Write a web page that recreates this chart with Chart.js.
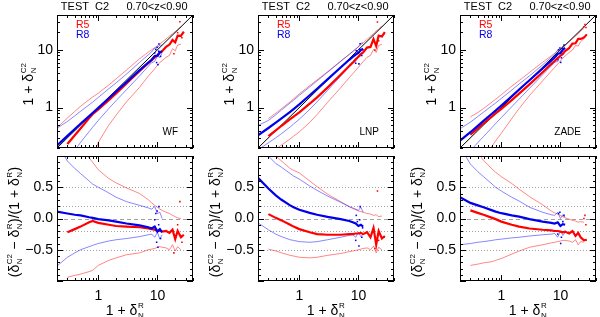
<!DOCTYPE html>
<html>
<head>
<meta charset="UTF-8">
<title>TEST C2 0.70&lt;z&lt;0.90</title>
<script src="https://cdn.jsdelivr.net/npm/chart.js"></script>
<style>
  html, body { margin: 0; padding: 0; background: #fff; overflow: hidden; }
  #wrap { position: relative; width: 600px; height: 317px; }
  #wrap canvas { position: absolute; }
</style>
</head>
<body>
<div id="wrap"></div>
<script>
// x = 1 + delta_R, shared by every curve
const xGrid = [0.2, 0.3, 0.4, 0.5, 0.7, 0.8, 1, 1.5, 2, 3, 5, 7, 8, 9, 10, 11, 12, 14, 16, 18, 20, 22, 25, 28];

// relative error (dC2 - dR)/(1 + dR)
// thick = mean, Hi/Lo = thin bounds; blue = R8, red = R5
const wfBlue     = [0.11, 0.08, 0.06, 0.05, 0.02, 0.01, -0.01, -0.03, -0.05, -0.08, -0.11, -0.14, -0.16, -0.13, -0.21, -0.17, -0.22];
const wfBlueHi   = [1.2, 0.92, 0.8, 0.72, 0.6, 0.55, 0.5, 0.41, 0.34, 0.27, 0.21, 0.17, 0.15, 0.19, 0.08, 0.1, 0.0];
const wfBlueLo   = [-0.76, -0.62, -0.55, -0.5, -0.45, -0.43, -0.4, -0.36, -0.34, -0.32, -0.29, -0.26, -0.25, -0.3, -0.22, -0.33, -0.26];
const wfRed      = [null, -0.22, -0.17, -0.13, -0.06, -0.04, -0.07, -0.1, -0.12, -0.13, -0.14, -0.16, -0.17, -0.18, -0.2, -0.19, -0.21, -0.2, -0.23, -0.18, -0.33, -0.2, -0.3, -0.26];
const wfRedHi    = [1.25, 1.2, 1.15, 1.1, 0.97, 0.9, 0.78, 0.64, 0.57, 0.49, 0.4, 0.3, 0.25, 0.21, 0.18, 0.15, 0.13, 0.1, 0.08, 0.05, 0.03, 0.01, 0.0, null];
const wfRedLo    = [null, -0.94, -0.91, -0.89, -0.85, -0.83, -0.75, -0.67, -0.63, -0.58, -0.55, -0.5, -0.49, -0.48, -0.46, -0.45, -0.46, -0.47, -0.5, -0.42, -0.52, -0.45, -0.5, null];
const wfBlueDots = [[9.0, -0.02], [9.4, 0.08], [9.7, -0.38], [10.2, -0.46], [10.5, -0.1], [10.6, 0.19], [11.3, -0.32], [9.9, 0.12]];
const wfRedDots  = [[24, 0.27], [22, -0.1], [26, -0.38], [19, -0.55]];

const lnpBlue     = [0.65, 0.48, 0.37, 0.3, 0.21, 0.18, 0.14, 0.09, 0.06, 0.025, -0.01, -0.04, -0.06, -0.08, -0.12, -0.1, -0.13];
const lnpBlueHi   = [1.45, 1.0, 0.88, 0.82, 0.72, 0.68, 0.63, 0.52, 0.45, 0.36, 0.26, 0.19, 0.17, 0.15, 0.13, 0.18, 0.1];
const lnpBlueLo   = [-0.07, -0.18, -0.25, -0.29, -0.34, -0.35, -0.37, -0.38, -0.37, -0.34, -0.3, -0.27, -0.26, -0.3, -0.22, -0.29, -0.25];
const lnpRed      = [null, 0.07, 0.01, -0.03, -0.1, -0.13, -0.17, -0.22, -0.25, -0.26, -0.26, -0.25, -0.25, -0.24, -0.24, -0.23, -0.25, -0.22, -0.3, -0.15, -0.42, -0.2, -0.32, -0.28];
const lnpRedHi    = [null, 1.15, 1.0, 0.92, 0.8, 0.77, 0.73, 0.6, 0.51, 0.39, 0.27, 0.19, 0.16, 0.14, 0.12, 0.11, 0.1, 0.08, 0.07, 0.05, 0.06, 0.03, 0.04, null];
const lnpRedLo    = [null, -0.49, -0.52, -0.55, -0.59, -0.6, -0.62, -0.63, -0.62, -0.59, -0.56, -0.53, -0.52, -0.51, -0.5, -0.49, -0.48, -0.47, -0.5, -0.44, -0.55, -0.46, -0.5, null];
const lnpBlueDots = [[9.2, 0.05], [9.6, -0.05], [10.7, 0.19], [10.2, -0.44], [11.4, -0.3], [9.0, -0.35], [10.5, -0.02], [11.8, -0.15]];
const lnpRedDots  = [[21, 0.44], [22, -0.35], [27, -0.3], [19, -0.48]];

const zadeBlue     = [0.34, 0.25, 0.21, 0.18, 0.13, 0.11, 0.085, 0.05, 0.03, -0.01, -0.05, -0.07, -0.08, -0.06, -0.12, -0.09, -0.1];
const zadeBlueHi   = [1.15, 0.87, 0.75, 0.67, 0.55, 0.5, 0.44, 0.34, 0.28, 0.18, 0.1, 0.06, 0.05, 0.1, 0.0, 0.06, 0.02];
const zadeBlueLo   = [-0.42, -0.4, -0.38, -0.37, -0.35, -0.34, -0.33, -0.31, -0.3, -0.28, -0.26, -0.25, -0.24, -0.3, -0.2, -0.27, -0.23];
const zadeRed      = [null, 0.13, 0.09, 0.06, 0.01, -0.01, -0.05, -0.1, -0.13, -0.16, -0.18, -0.19, -0.2, -0.2, -0.21, -0.22, -0.21, -0.24, -0.2, -0.28, -0.23, -0.3, -0.35, -0.34];
const zadeRedHi    = [null, 1.3, 1.05, 0.93, 0.79, 0.74, 0.67, 0.56, 0.47, 0.35, 0.22, 0.12, 0.09, 0.07, 0.05, 0.03, 0.01, -0.01, -0.03, -0.04, -0.06, -0.05, -0.06, null];
const zadeRedLo    = [null, -0.75, -0.73, -0.71, -0.69, -0.67, -0.64, -0.57, -0.52, -0.46, -0.42, -0.39, -0.38, -0.37, -0.36, -0.35, -0.35, -0.36, -0.38, -0.34, -0.42, -0.37, -0.38, null];
const zadeBlueDots = [[9.3, 0.08], [9.8, 0.1], [10.4, -0.3], [9.0, -0.25], [11, -0.05], [10.1, -0.4], [11.5, 0.05]];
const zadeRedDots  = [[25, 0.0], [27, -0.1], [26, 0.05]];

const axisMin = 0.2, axisMax = 40;
const logTickLabels = [1, 10];
const relTickLabels = [-0.5, 0, 0.5];
const refLines = [0.5, 0.2, -0.2, -0.5];

const panels = [
  { label: 'WF', left: 0, blue: wfBlue, blueHi: wfBlueHi, blueLo: wfBlueLo, red: wfRed, redHi: wfRedHi, redLo: wfRedLo, blueDots: wfBlueDots, redDots: wfRedDots },
  { label: 'LNP', left: 201, blue: lnpBlue, blueHi: lnpBlueHi, blueLo: lnpBlueLo, red: lnpRed, redHi: lnpRedHi, redLo: lnpRedLo, blueDots: lnpBlueDots, redDots: lnpRedDots },
  { label: 'ZADE', left: 403, blue: zadeBlue, blueHi: zadeBlueHi, blueLo: zadeBlueLo, red: zadeRed, redHi: zadeRedHi, redLo: zadeRedLo, blueDots: zadeBlueDots, redDots: zadeRedDots }
];

const FAM = '"Liberation Sans", Arial, sans-serif';
const RED = 'rgb(255,0,0)', BLUE = 'rgb(0,0,235)';
const RED_THIN = 'rgba(255,40,40,0.7)', BLUE_THIN = 'rgba(40,40,255,0.7)';

// upper panels show 1 + dC2 = (1 + dR) * (1 + rel)
function curve(arr, top) {
  return xGrid.map((x, i) => {
    const r = arr[i];
    return { x: x, y: r == null ? null : (top ? x * (1 + r) : r) };
  });
}
function dots(arr, top) {
  return arr.map(p => ({ x: p[0], y: top ? p[0] * (1 + p[1]) : p[1] }));
}
function line(data, color, width) {
  return { data: data, borderColor: color, backgroundColor: color, borderWidth: width, pointRadius: 0, tension: 0, clip: 0, spanGaps: false };
}
function pointSet(data, color) {
  return { data: data, showLine: false, pointRadius: 1.1, pointStyle: 'rect', borderWidth: 0, backgroundColor: color, borderColor: color, clip: 0 };
}

function buildSets(p, top) {
  const sets = [
    line(curve(p.blue, top), BLUE, 2.2),
    line(curve(p.red, top), RED, 2.2),
    pointSet(dots(p.blueDots, top), BLUE),
    pointSet(dots(p.redDots, top), RED)
  ];
  if (top) sets.push(line([{ x: axisMin, y: axisMin }, { x: axisMax, y: axisMax }], '#000', 1));
  sets.push(
    line(curve(p.blueHi, top), BLUE_THIN, 0.8),
    line(curve(p.blueLo, top), BLUE_THIN, 0.8),
    line(curve(p.redHi, top), RED_THIN, 0.8),
    line(curve(p.redLo, top), RED_THIN, 0.8)
  );
  return sets;
}

// text with stacked super/subscripts, centred on (cx, cy)
function drawMath(ctx, cx, cy, rot, parts, size) {
  const small = Math.round(size * 0.6);
  const big = size + 'px ' + FAM, sm = small + 'px ' + FAM;
  ctx.save();
  ctx.translate(cx, cy);
  ctx.rotate(rot);
  ctx.fillStyle = '#000';
  ctx.textAlign = 'left';
  ctx.textBaseline = 'alphabetic';
  const widths = parts.map(p => {
    if (typeof p === 'string') { ctx.font = big; return ctx.measureText(p).width; }
    ctx.font = sm;
    return Math.max(ctx.measureText(p[0]).width, ctx.measureText(p[1]).width) + 1;
  });
  let x = -widths.reduce((a, b) => a + b, 0) / 2;
  const base = size * 0.36;
  parts.forEach((p, i) => {
    if (typeof p === 'string') {
      ctx.font = big;
      ctx.fillText(p, x, base);
    } else {
      ctx.font = sm;
      ctx.fillText(p[0], x + 0.5, base - size * 0.5);
      ctx.fillText(p[1], x + 0.5, base + size * 0.2);
    }
    x += widths[i];
  });
  ctx.restore();
}

function logMarks() {
  const out = [];
  for (let e = -1; e <= 1; e++) {
    for (let m = 1; m <= 9; m++) {
      const v = m * Math.pow(10, e);
      if (v >= axisMin - 1e-9 && v <= axisMax + 1e-9) out.push({ v: v, major: m === 1 });
    }
  }
  return out;
}
function linMarks() {
  const out = [];
  for (let k = -10; k <= 10; k++) out.push({ v: k / 10, major: k % 5 === 0 });
  return out;
}

const framePlugin = {
  id: 'frame',
  beforeDatasetsDraw(chart, args, opts) {
    if (opts.top) return;
    const ctx = chart.ctx, a = chart.chartArea, ys = chart.scales.y;
    ctx.save();
    ctx.strokeStyle = '#8a8a8a';
    ctx.lineWidth = 0.8;
    const drawRef = (v, dash) => {
      const py = Math.round(ys.getPixelForValue(v)) + 0.5;
      ctx.setLineDash(dash);
      ctx.beginPath(); ctx.moveTo(a.left, py); ctx.lineTo(a.right, py); ctx.stroke();
    };
    refLines.forEach(v => drawRef(v, [1, 2]));
    drawRef(0, [4, 3]);
    ctx.restore();
  },
  afterDraw(chart, args, opts) {
    const ctx = chart.ctx, a = chart.chartArea;
    const xs = chart.scales.x, ys = chart.scales.y;
    ctx.save();
    ctx.strokeStyle = '#000';
    ctx.lineWidth = 1;
    ctx.setLineDash([]);
    ctx.strokeRect(a.left + 0.5, a.top + 0.5, a.right - a.left - 1, a.bottom - a.top - 1);
    ctx.beginPath();
    logMarks().forEach(t => {
      const px = Math.round(xs.getPixelForValue(t.v)) + 0.5, len = t.major ? 6 : 3;
      ctx.moveTo(px, a.bottom); ctx.lineTo(px, a.bottom - len);
      ctx.moveTo(px, a.top); ctx.lineTo(px, a.top + len);
    });
    (opts.top ? logMarks() : linMarks()).forEach(t => {
      const py = Math.round(ys.getPixelForValue(t.v)) + 0.5, len = t.major ? 6 : 3;
      ctx.moveTo(a.left, py); ctx.lineTo(a.left + len, py);
      ctx.moveTo(a.right, py); ctx.lineTo(a.right - len, py);
    });
    ctx.stroke();

    if (opts.top) {
      ctx.fillStyle = '#000';
      ctx.textBaseline = 'middle';
      ctx.textAlign = 'center';
      ctx.font = '11px ' + FAM;
      ctx.fillText('TEST  C2', 85, 7);
      ctx.fillText('0.70<z<0.90', 157, 7);
      ctx.textAlign = 'left';
      ctx.font = '10.5px ' + FAM;
      ctx.fillStyle = RED;
      ctx.fillText('R5', 76, 25);
      ctx.fillStyle = BLUE;
      ctx.fillText('R8', 76, 35);
      ctx.fillStyle = '#000';
      ctx.textAlign = 'right';
      ctx.font = '10px ' + FAM;
      ctx.fillText(opts.label, a.right - 15, 132);
      drawMath(ctx, 28, 84, -Math.PI / 2, ['1 + \u03b4', ['C2', 'N']], 14);
    } else {
      drawMath(ctx, 14, 70, -Math.PI / 2, ['(\u03b4', ['C2', 'N'], ' \u2212 \u03b4', ['R', 'N'], ')/(1 + \u03b4', ['R', 'N'], ')'], 14);
      drawMath(ctx, (a.left + a.right) / 2, 158, 0, ['1 + \u03b4', ['R', 'N']], 14);
    }
    ctx.restore();
  }
};

function makeCanvas(left, top, w, h) {
  const c = document.createElement('canvas');
  c.width = w; c.height = h;
  c.style.left = left + 'px'; c.style.top = top + 'px';
  c.style.width = w + 'px'; c.style.height = h + 'px';
  document.getElementById('wrap').appendChild(c);
  return c;
}

const tickFont = { family: FAM, size: 14 };

// fixed axis boxes so that every plot area sits exactly where it should
function fixBox(size, vertical) {
  return s => {
    if (vertical) s.width = size; else s.height = size;
    s.paddingTop = 0; s.paddingBottom = 0; s.paddingLeft = 0; s.paddingRight = 0;
  };
}

function makeChart(p, top) {
  const canvas = top ? makeCanvas(p.left, 0, 197, 152) : makeCanvas(p.left, 152, 197, 165);
  const yScale = top ? {
    type: 'logarithmic', min: axisMin, max: axisMax,
    afterBuildTicks: s => { s.ticks = logTickLabels.map(v => ({ value: v })); },
    ticks: { font: tickFont, color: '#000', padding: 4, callback: v => String(v) }
  } : {
    type: 'linear', min: -1, max: 1,
    afterBuildTicks: s => { s.ticks = relTickLabels.map(v => ({ value: v })); },
    ticks: { font: tickFont, color: '#000', padding: 4, callback: v => (v < 0 ? '\u2212' : '') + Math.abs(v).toFixed(1) }
  };
  yScale.grid = { display: false, drawTicks: false };
  yScale.border = { display: false };
  yScale.afterFit = fixBox(57, true);

  return new Chart(canvas, {
    type: 'line',
    data: { datasets: buildSets(p, top) },
    options: {
      responsive: false,
      animation: false,
      events: [],
      layout: { padding: { top: top ? 15 : 0, right: 2, left: 0, bottom: 0 } },
      plugins: {
        legend: { display: false },
        tooltip: { enabled: false },
        frame: { top: top, label: p.label }
      },
      scales: {
        x: {
          type: 'logarithmic', min: axisMin, max: axisMax, display: !top,
          grid: { display: false, drawTicks: false },
          border: { display: false },
          afterBuildTicks: s => { s.ticks = logTickLabels.map(v => ({ value: v })); },
          ticks: { font: tickFont, color: '#000', padding: 7, maxRotation: 0, autoSkip: false, callback: v => String(v) },
          afterFit: fixBox(top ? 0 : 36, false)
        },
        y: yScale
      }
    },
    plugins: [framePlugin]
  });
}

panels.forEach(p => {
  makeChart(p, true);
  makeChart(p, false);
});
</script>
</body>
</html>
